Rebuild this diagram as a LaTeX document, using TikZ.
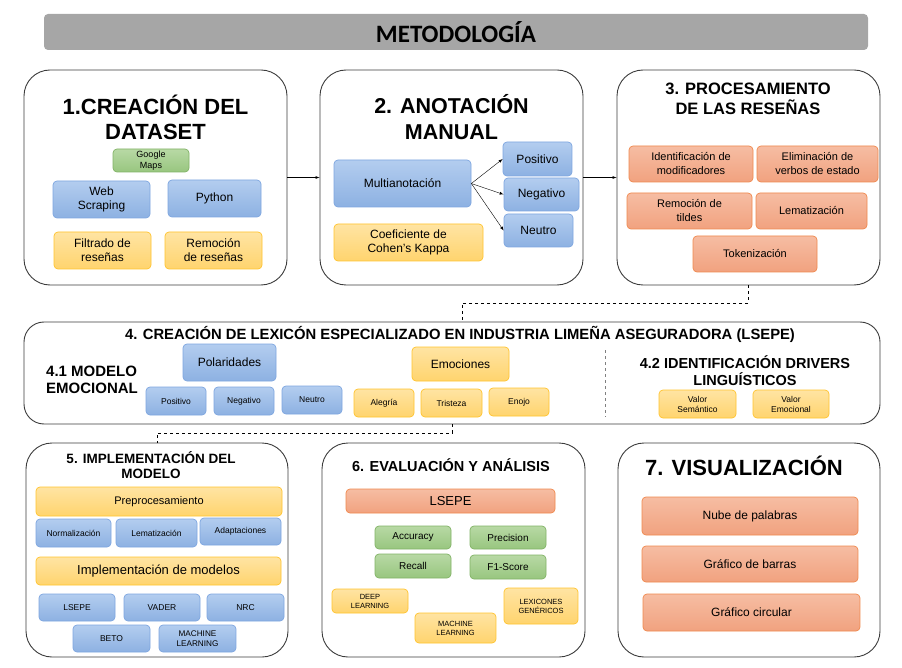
\documentclass[tikz,border=0pt]{standalone}
\usepackage{fontspec}
\setmainfont{Liberation Sans}
\newfontfamily\titlefont{Carlito}
\usetikzlibrary{positioning}

\definecolor{bluetop}{HTML}{B3CDEF}
\definecolor{bluebot}{HTML}{8DB1E2}
\definecolor{blueline}{HTML}{7EA6E0}
\definecolor{yeltop}{HTML}{FFE4A3}
\definecolor{yelbot}{HTML}{FFD46E}
\definecolor{yelline}{HTML}{FFC42E}
\definecolor{saltop}{HTML}{F6BDA3}
\definecolor{salbot}{HTML}{F1A27F}
\definecolor{salline}{HTML}{F0894E}
\definecolor{grntop}{HTML}{B8D9A5}
\definecolor{grnbot}{HTML}{98C67F}
\definecolor{grnline}{HTML}{82B366}
\definecolor{barfill}{HTML}{A6A6A6}
\definecolor{boxline}{HTML}{3C3C3C}

\tikzstyle{titlebar} = [fill=barfill,rounded corners=4pt,inner sep=0pt]
\tikzstyle{bigbox} = [draw=boxline,line width=0.9pt,rounded corners=26pt,fill=white,minimum width=263pt,minimum height=215pt]
\tikzstyle{heading} = [align=center,inner sep=0pt]
\tikzstyle{bluebox} = [draw=blueline,top color=bluetop,bottom color=bluebot,rounded corners=4pt,align=center,inner sep=0pt,line width=0.7pt]
\tikzstyle{yellowbox} = [draw=yelline,top color=yeltop,bottom color=yelbot,rounded corners=4pt,align=center,inner sep=0pt,line width=0.7pt]
\tikzstyle{salmonbox} = [draw=salline,top color=saltop,bottom color=salbot,rounded corners=4pt,align=center,inner sep=0pt,line width=0.7pt]
\tikzstyle{greenbox} = [draw=grnline,top color=grntop,bottom color=grnbot,rounded corners=4pt,align=center,inner sep=0pt,line width=0.7pt]

\begin{document}
\begin{tikzpicture}[x=1pt,y=-1pt]
		\useasboundingbox (0,0) rectangle (902,668);
		\node[titlebar,minimum width=824pt,minimum height=36pt,font=\titlefont\bfseries\fontsize{25}{28}\selectfont] (met) at (456,32) {METODOLOGÍA};
		% 1
		\node[bigbox] (b1) at (155.5,177.5) {};
		\node[heading,font=\bfseries\fontsize{22}{25}\selectfont] (t1) at (155.5,117) {1.CREACIÓN DEL\\DATASET};
		\node[greenbox,minimum width=76pt,minimum height=23pt,font=\fontsize{9}{10.5}\selectfont] (gm) at (151,160.5) {Google\\Maps};
		\node[bluebox,minimum width=97pt,minimum height=37pt,font=\fontsize{12}{14}\selectfont] (web) at (101.5,199.5) {Web\\Scraping};
		\node[bluebox,minimum width=93pt,minimum height=37pt,font=\fontsize{12}{14}\selectfont] (py) at (214.5,198.5) {Python};
		\node[yellowbox,minimum width=97pt,minimum height=37pt,font=\fontsize{12}{14}\selectfont] (fil) at (102.5,250.5) {Filtrado de\\reseñas};
		\node[yellowbox,minimum width=97pt,minimum height=37pt,font=\fontsize{12}{14}\selectfont] (rem) at (213.5,250.5) {Remoción\\de reseñas};
		% 2
		\node[bigbox] (b2) at (451.5,177.5) {};
		\node[heading,font=\bfseries\fontsize{21.5}{26}\selectfont] (t2) at (451.5,117) {2. ANOTACIÓN\\MANUAL};
		\node[bluebox,minimum width=137pt,minimum height=47pt,font=\fontsize{12}{14}\selectfont] (mul) at (402.5,183.5) {Multianotación};
		\node[bluebox,minimum width=69pt,minimum height=34pt,font=\fontsize{12}{14}\selectfont] (pos) at (537.5,159) {Positivo};
		\node[bluebox,minimum width=75pt,minimum height=33pt,font=\fontsize{12}{14}\selectfont] (neg) at (541.5,194.5) {Negativo};
		\node[bluebox,minimum width=69pt,minimum height=33pt,font=\fontsize{12}{14}\selectfont] (neu) at (538.5,230.5) {Neutro};
		\node[yellowbox,minimum width=149pt,minimum height=37pt,font=\fontsize{12}{14}\selectfont] (coh) at (408.5,242.5) {Coeficiente de\\Cohen’s Kappa};
		\draw[->,>=latex] (mul.east) -- (pos.west);
		\draw[->,>=latex] (mul.east) -- (neg.west);
		\draw[->,>=latex] (mul.east) -- (neu.west);
		% 3
		\node[bigbox] (b3) at (748.5,177.5) {};
		\node[heading,font=\bfseries\fontsize{16.5}{20}\selectfont] (t3) at (748,98.5) {3. PROCESAMIENTO\\DE LAS RESEÑAS};
		\node[salmonbox,minimum width=124pt,minimum height=36pt,font=\fontsize{11}{14}\selectfont] (mod) at (691,164) {Identificación de\\modificadores};
		\node[salmonbox,minimum width=121pt,minimum height=36pt,font=\fontsize{11}{14}\selectfont] (eli) at (817.5,164) {Eliminación de\\verbos de estado};
		\node[salmonbox,minimum width=125pt,minimum height=36pt,font=\fontsize{11}{14}\selectfont] (til) at (689.5,211) {Remoción de\\tildes};
		\node[salmonbox,minimum width=111pt,minimum height=36pt,font=\fontsize{11}{14}\selectfont] (lem) at (811.5,211) {Lematización};
		\node[salmonbox,minimum width=124pt,minimum height=36pt,font=\fontsize{11}{14}\selectfont] (tok) at (755,254) {Tokenización};
		\draw[->,>=latex] (b1) -- (b2);
		\draw[->,>=latex] (b2) -- (b3);
		% 4
		\node[bigbox,rounded corners=20pt,minimum width=856pt,minimum height=102pt] (b4) at (452,373) {};
		\node[heading,font=\bfseries\fontsize{14.8}{17}\selectfont] (t4) at (460,334) {4. CREACIÓN DE LEXICÓN ESPECIALIZADO EN INDUSTRIA LIMEÑA ASEGURADORA (LSEPE)};
		\node[heading,align=left,anchor=west,font=\bfseries\fontsize{15}{17}\selectfont] (t41) at (46,379.5) {4.1 MODELO\\EMOCIONAL};
		\node[bluebox,minimum width=93pt,minimum height=37pt,font=\fontsize{12}{14}\selectfont] (pol) at (229.5,362.5) {Polaridades};
		\node[bluebox,minimum width=60pt,minimum height=28pt,font=\fontsize{8.5}{10}\selectfont] (pos2) at (176,401) {Positivo};
		\node[bluebox,minimum width=60pt,minimum height=28pt,font=\fontsize{8.5}{10}\selectfont] (neg2) at (244,401) {Negativo};
		\node[bluebox,minimum width=60pt,minimum height=28pt,font=\fontsize{8.5}{10}\selectfont] (neu2) at (312,400) {Neutro};
		\node[yellowbox,minimum width=97pt,minimum height=34pt,font=\fontsize{12}{14}\selectfont] (emo) at (460.5,364) {Emociones};
		\node[yellowbox,minimum width=60pt,minimum height=28pt,font=\fontsize{8.5}{10}\selectfont] (ale) at (384,403) {Alegría};
		\node[yellowbox,minimum width=61pt,minimum height=28pt,font=\fontsize{8.5}{10}\selectfont] (tri) at (451.5,403) {Tristeza};
		\node[yellowbox,minimum width=60pt,minimum height=28pt,font=\fontsize{8.5}{10}\selectfont] (eno) at (519,402) {Enojo};
		\draw[dashed,gray] (605,350) -- (605,417);
		\node[heading,font=\bfseries\fontsize{14.5}{17}\selectfont] (t42) at (745,370.5) {4.2 IDENTIFICACIÓN DRIVERS\\LINGUÍSTICOS};
		\node[yellowbox,minimum width=77pt,minimum height=28pt,font=\fontsize{8.5}{10}\selectfont] (vs) at (697.5,404) {Valor\\Semántico};
		\node[yellowbox,minimum width=76pt,minimum height=28pt,font=\fontsize{8.5}{10}\selectfont] (ve) at (791,404) {Valor\\Emocional};
		\coordinate (d1) at (462,303);
		\draw[dashed] (b3.south) |- (d1) -- (d1 |- b4.north);
		% 5
		\node[bigbox,minimum width=262pt,minimum height=214pt] (b5) at (157,550) {};
		\node[heading,font=\bfseries\fontsize{13.5}{15.5}\selectfont] (t5) at (151,465) {5. IMPLEMENTACIÓN DEL\\MODELO};
		\node[yellowbox,minimum width=246pt,minimum height=29pt,font=\fontsize{11}{13}\selectfont] (pre) at (159,501.5) {Preprocesamiento};
		\node[bluebox,minimum width=75pt,minimum height=28pt,font=\fontsize{8.5}{10}\selectfont] (nor) at (73.5,533) {Normalización};
		\node[bluebox,minimum width=81pt,minimum height=28pt,font=\fontsize{8.5}{10}\selectfont] (lem2) at (156.5,533) {Lematización};
		\node[bluebox,minimum width=81pt,minimum height=27pt,font=\fontsize{8.5}{10}\selectfont] (ada) at (240.5,531.5) {Adaptaciones};
		\node[yellowbox,minimum width=245pt,minimum height=28pt,font=\fontsize{13}{15}\selectfont] (imp) at (158.5,571) {Implementación de modelos};
		\node[bluebox,minimum width=76pt,minimum height=27pt,font=\fontsize{8.5}{10}\selectfont] (lse1) at (77,607.5) {LSEPE};
		\node[bluebox,minimum width=76pt,minimum height=27pt,font=\fontsize{8.5}{10}\selectfont] (vad) at (162,607.5) {VADER};
		\node[bluebox,minimum width=77pt,minimum height=27pt,font=\fontsize{8.5}{10}\selectfont] (nrc) at (245.5,607.5) {NRC};
		\node[bluebox,minimum width=77pt,minimum height=27pt,font=\fontsize{8.5}{10}\selectfont] (bet) at (111.5,638.5) {BETO};
		\node[bluebox,minimum width=77pt,minimum height=27pt,font=\fontsize{8.2}{9.5}\selectfont] (mla) at (197.5,638.5) {MACHINE\\LEARNING};
		\coordinate (d2) at (157,433);
		\draw[dashed] (b4.south) |- (d2) -- (d2 |- b5.north);
		% 6
		\node[bigbox,minimum height=214pt] (b6) at (453.5,550) {};
		\node[heading,font=\bfseries\fontsize{14.5}{16}\selectfont] (t6) at (451,465) {6. EVALUACIÓN Y ANÁLISIS};
		\node[salmonbox,minimum width=209pt,minimum height=24pt,font=\fontsize{13}{15}\selectfont] (lse2) at (450.5,501) {LSEPE};
		\node[greenbox,minimum width=76pt,minimum height=23pt,font=\fontsize{10}{12}\selectfont] (acc) at (413,537.5) {Accuracy};
		\node[greenbox,minimum width=76pt,minimum height=23pt,font=\fontsize{10}{12}\selectfont] (prc) at (508,537.5) {Precision};
		\node[greenbox,minimum width=76pt,minimum height=24pt,font=\fontsize{10}{12}\selectfont] (rec) at (413,566) {Recall};
		\node[greenbox,minimum width=76pt,minimum height=24pt,font=\fontsize{10}{12}\selectfont] (f1) at (508,567) {F1-Score};
		\node[yellowbox,minimum width=76pt,minimum height=24pt,font=\fontsize{7.5}{9}\selectfont] (dl) at (370,601) {DEEP\\LEARNING};
		\node[yellowbox,minimum width=81pt,minimum height=30pt,font=\fontsize{7.5}{9}\selectfont] (ml) at (455.5,628) {MACHINE\\LEARNING};
		\node[yellowbox,minimum width=74pt,minimum height=36pt,font=\fontsize{7.5}{9}\selectfont] (lg) at (541,606) {LEXICONES\\GENÉRICOS};
		% 7
		\node[bigbox,minimum width=262pt,minimum height=214pt] (b7) at (749,550) {};
		\node[heading,font=\bfseries\fontsize{22}{26}\selectfont] (t7) at (744,466) {7. VISUALIZACIÓN};
		\node[salmonbox,minimum width=216pt,minimum height=38pt,font=\fontsize{12}{14}\selectfont] (nub) at (750,516) {Nube de palabras};
		\node[salmonbox,minimum width=216pt,minimum height=36pt,font=\fontsize{12}{14}\selectfont] (gb) at (750,564) {Gráfico de barras};
		\node[salmonbox,minimum width=217pt,minimum height=37pt,font=\fontsize{12}{14}\selectfont] (gc) at (751.5,612.5) {Gráfico circular};
\end{tikzpicture}
\end{document}
